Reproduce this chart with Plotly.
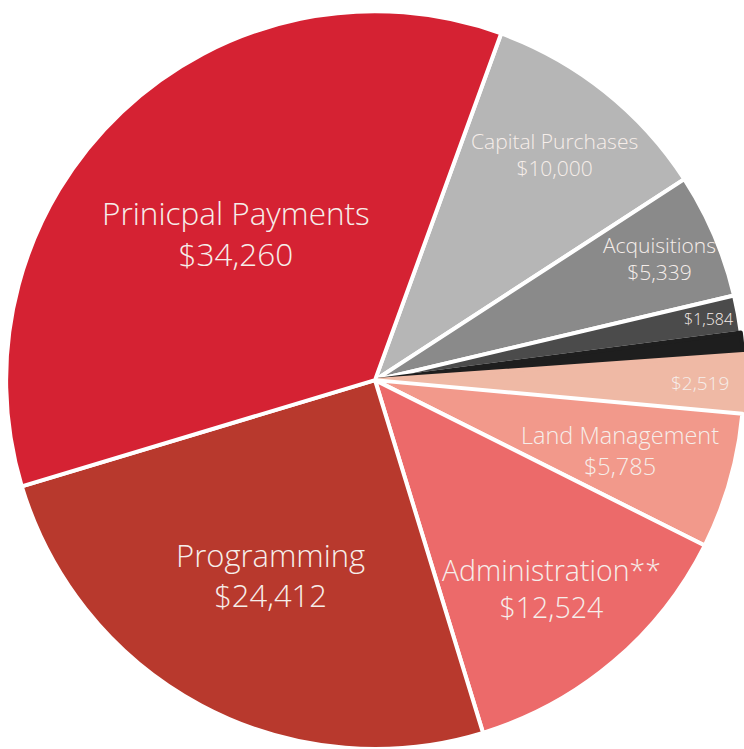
import math
import plotly.graph_objects as go

# slices in clockwise order, starting at the top-right
labels = ["Capital Purchases", "Acquisitions", "Other A", "Other B", "Other C",
          "Land Management", "Administration**", "Programming", "Prinicpal Payments"]
values = [10000, 5339, 1584, 900, 2519, 5785, 12524, 24412, 34260]
show_name = [True, True, False, False, False, True, True, True, True]
show_value = [True, True, True, False, True, True, True, True, True]

colors = ["#b6b6b6", "#8a8a8a", "#4b4b4b", "#1e1e1e", "#efb9a5",
          "#f2998b", "#ec6a6a", "#b8392d", "#d52233"]
edge_colors = ["white", "white", "white", "#1e1e1e", "#efb9a5",
               "white", "white", "white", "white"]
font_sizes = [21, 21, 16, 10, 19, 23.5, 28.5, 31, 31.5]
label_r = [0.78, 0.84, 0.92, 0.9, 0.88, 0.69, 0.74, 0.60, 0.55]

W, H = 744, 749
ROT = 20
dom_x = [6 / W, 1]
dom_y = [0, 0.985]

fig = go.Figure(go.Pie(
    labels=labels,
    values=values,
    textinfo="none",
    marker=dict(colors=colors, line=dict(color=edge_colors, width=4)),
    sort=False,
    direction="clockwise",
    rotation=ROT,
    hoverinfo="label+value",
    domain=dict(x=dom_x, y=dom_y),
))

# pie geometry in pixels (plotly uses the smaller domain side)
dw = (dom_x[1] - dom_x[0]) * W
dh = (dom_y[1] - dom_y[0]) * H
R = min(dw, dh) / 2
cx = (dom_x[0] + dom_x[1]) / 2
cy = (dom_y[0] + dom_y[1]) / 2

total = sum(values)
cum = 0
for name, val, sn, sv, fs, lr in zip(labels, values, show_name, show_value, font_sizes, label_r):
    mid = math.radians(ROT + 360 * (cum + val / 2) / total)
    cum += val
    if not sv:
        continue
    txt = f"{name}<br>${val:,}" if sn else f"${val:,}"
    fig.add_annotation(
        x=cx + lr * R * math.sin(mid) / W,
        y=cy + lr * R * math.cos(mid) / H,
        xref="paper", yref="paper",
        xanchor="center", yanchor="middle",
        text=txt, showarrow=False,
        font=dict(family="Open Sans", size=fs, color="#f6eeea", weight=300),
    )

fig.update_layout(
    width=W,
    height=H,
    margin=dict(l=0, r=0, t=0, b=0),
    showlegend=False,
    paper_bgcolor="white",
)

fig.write_html("out.html", config={"displayModeBar": False},
               post_script="document.body.style.margin='0';")
